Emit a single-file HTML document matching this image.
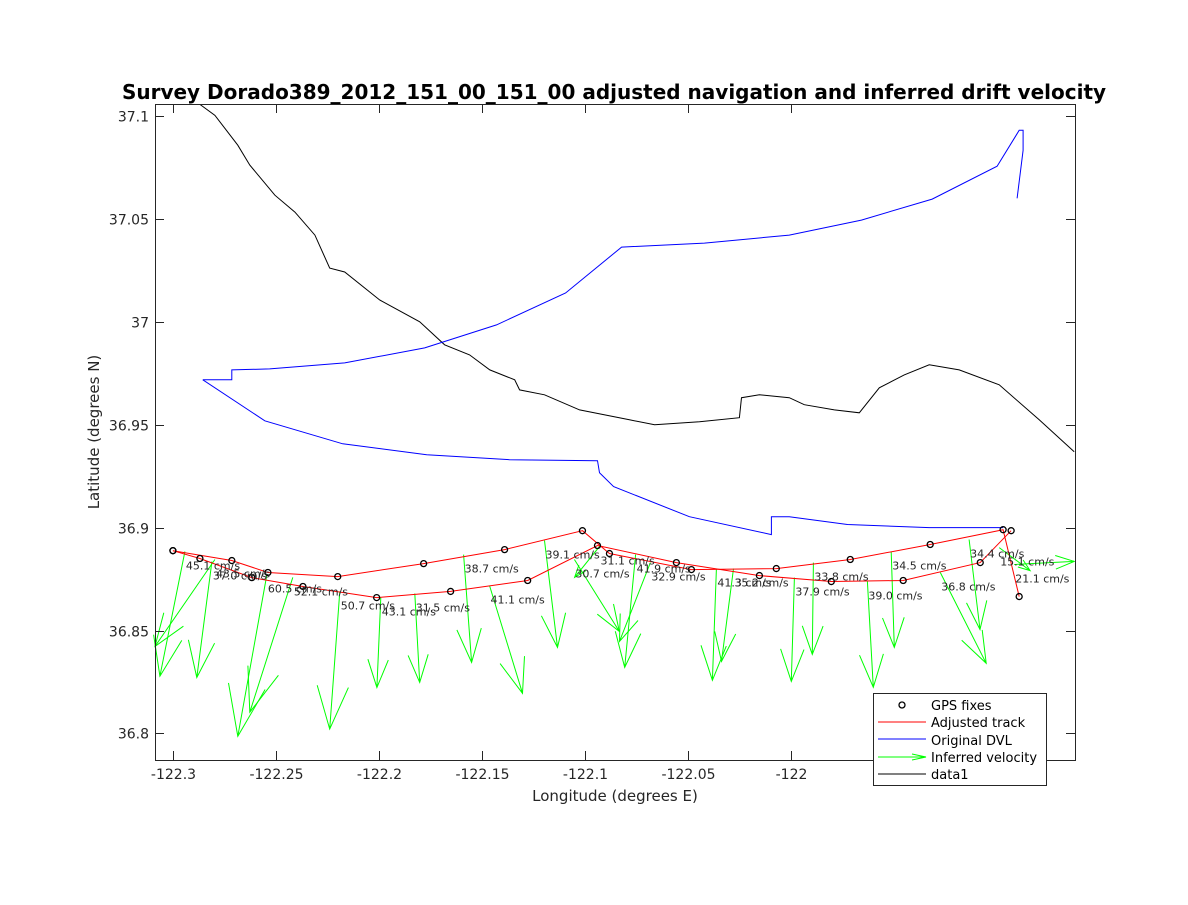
<!DOCTYPE html>
<html><head><meta charset="utf-8"><style>
body{margin:0;background:#fff;}
svg text{font-family:"DejaVu Sans","Liberation Sans",sans-serif;}
</style></head><body>
<svg id="chart" width="1188" height="900" viewBox="0 0 1188 900" xmlns="http://www.w3.org/2000/svg">
<rect width="1188" height="900" fill="#fff"/>
<text x="614" y="99" text-anchor="middle" font-size="20" font-weight="bold" fill="#000">Survey Dorado389_2012_151_00_151_00 adjusted navigation and inferred drift velocity</text>
<g id="plot"></g>
<text x="615" y="801" text-anchor="middle" font-size="15" fill="#262626">Longitude (degrees E)</text>
<text x="99" y="432" text-anchor="middle" font-size="15" fill="#262626" transform="rotate(-90 99 432)">Latitude (degrees N)</text>
<g>
<rect x="873.5" y="693.5" width="173" height="92" fill="#fff" stroke="#262626" stroke-width="1"/>
<circle cx="902" cy="705" r="3" fill="none" stroke="#000" stroke-width="1.3"/>
<text x="931" y="710" font-size="13" fill="#000">GPS fixes</text>
<line x1="878" y1="722" x2="926" y2="722" stroke="#f00"/>
<text x="931" y="727" font-size="13" fill="#000">Adjusted track</text>
<line x1="878" y1="739" x2="926" y2="739" stroke="#00f"/>
<text x="931" y="745" font-size="13" fill="#000">Original DVL</text>
<line x1="878" y1="757" x2="926" y2="757" stroke="#0f0"/>
<path d="M912 754 L926 757 L912 760" fill="none" stroke="#0f0"/>
<text x="931" y="762" font-size="13" fill="#000">Inferred velocity</text>
<line x1="878" y1="774" x2="926" y2="774" stroke="#000"/>
<text x="931" y="779" font-size="13" fill="#000">data1</text>
</g>
</svg>
<script>
const xTicks=[-122.3,-122.25,-122.2,-122.15,-122.1,-122.05,-122];
const xTickLabels=["-122.3","-122.25","-122.2","-122.15","-122.1","-122.05","-122"];
const yTicks=[36.8,36.85,36.9,36.95,37,37.05,37.1];
const yTickLabels=["36.8","36.85","36.9","36.95","37","37.05","37.1"];
const trackALon=[-122.3,-122.2714,-122.2539,-122.22,-122.1783,-122.139,-122.1012,-122.0881,-122.0483,-122.0071,-121.9712,-121.9324,-121.897,-121.8892];
const trackALat=[36.8888,36.884,36.8782,36.8762,36.8825,36.8893,36.8985,36.8874,36.8796,36.8801,36.8845,36.8918,36.899,36.8665];
const trackBLon=[-122.3,-122.2869,-122.2617,-122.2369,-122.2011,-122.1652,-122.1278,-122.0939,-122.0556,-122.0153,-121.9804,-121.9455,-121.9081,-121.8931];
const trackBLat=[36.8888,36.885,36.8757,36.8714,36.866,36.869,36.8743,36.8913,36.883,36.8767,36.8738,36.8743,36.883,36.8985];
const dvlALon=[-122.2855,-122.2714,-122.2714,-122.253,-122.2166,-122.1778,-122.1429,-122.1094,-122.0822,-122.042,-122.0008,-121.9658,-121.9314,-121.8999,-121.8892,-121.8873,-121.8873,-121.8902];
const dvlALat=[36.9718,36.9718,36.9766,36.9771,36.98,36.9873,36.9985,37.014,37.0363,37.0382,37.0421,37.0494,37.0596,37.0756,37.093,37.093,37.0833,37.06];
const dvlBLon=[-122.2855,-122.2554,-122.2176,-122.1768,-122.1366,-122.0939,-122.0929,-122.0861,-122.0493,-122.0095,-122.0095,-122.0008,-121.9726,-121.9329,-121.897];
const dvlBLat=[36.9718,36.9519,36.9407,36.9354,36.933,36.9325,36.9267,36.9199,36.9053,36.8966,36.9053,36.9053,36.9015,36.9,36.9];
const coastLon=[-122.2869,-122.2796,-122.2685,-122.2627,-122.2505,-122.2408,-122.2311,-122.2239,-122.2166,-122.1996,-122.1802,-122.1681,-122.156,-122.1462,-122.1341,-122.1317,-122.1196,-122.1026,-122.0784,-122.0662,-122.0444,-122.025,-122.024,-122.0153,-122.0008,-121.9935,-121.9789,-121.9668,-121.9571,-121.945,-121.9329,-121.9183,-121.8989,-121.8795,-121.8625];
const coastLat=[37.1056,37.1003,37.0858,37.0761,37.0615,37.0533,37.0421,37.0261,37.0242,37.0106,37.0,36.9888,36.9839,36.9766,36.9718,36.9669,36.9645,36.9572,36.9524,36.95,36.9514,36.9534,36.9631,36.9645,36.9631,36.9597,36.9572,36.9558,36.9679,36.9742,36.9791,36.9766,36.9694,36.9524,36.9369];
const arrowLon=[-122.2942,-122.2796,-122.2811,-122.2544,-122.2418,-122.219,-122.1991,-122.1826,-122.1589,-122.1463,-122.1196,-122.0929,-122.1051,-122.0754,-122.0682,-122.0362,-122.0279,-121.9983,-121.9891,-121.9629,-121.9513,-121.9275,-121.9135,-121.8989,-121.8916];
const arrowLat=[36.8884,36.8845,36.8835,36.8772,36.8758,36.869,36.866,36.868,36.8869,36.8719,36.8937,36.8908,36.8845,36.8869,36.883,36.8801,36.8801,36.8757,36.883,36.8738,36.8884,36.8782,36.8942,36.8903,36.8821];
const arrowDLon=[-0.0121,-0.0291,-0.0073,-0.0141,-0.0209,-0.0049,-0.0019,0.0024,0.0039,0.016,0.0063,-0.0121,0.0218,-0.0053,-0.015,-0.0019,-0.0058,-0.0015,-0.0005,0.0029,0.0015,0.0223,0.0053,0.015,0.0291];
const arrowDLat=[-0.0606,-0.0422,-0.0563,-0.0786,-0.0655,-0.0669,-0.0437,-0.0432,-0.0524,-0.0524,-0.0519,-0.015,-0.0349,-0.0548,-0.0383,-0.0543,-0.0451,-0.0504,-0.0446,-0.0514,-0.0466,-0.0441,-0.0437,-0.0112,0.0015];
const speedLabels=["45.1 cm/s","43.5 cm/s","37.0 cm/s","60.5 cm/s","52.1 cm/s","50.7 cm/s","43.1 cm/s","31.5 cm/s","38.7 cm/s","41.1 cm/s","39.1 cm/s","31.1 cm/s","30.7 cm/s","41.9 cm/s","32.9 cm/s","41.3 cm/s","35.2 cm/s","37.9 cm/s","33.8 cm/s","39.0 cm/s","34.5 cm/s","36.8 cm/s","34.4 cm/s","15.1 cm/s","21.1 cm/s"];

const X0=155,X1=1075,Y0=104,Y1=760;
const lonMin=-122.3087,lonMax=-121.8621,latMin=36.7871,latMax=37.1058;
function sx(v){return X0+(v-lonMin)/(lonMax-lonMin)*(X1-X0);}
function sy(v){return Y1-(v-latMin)/(latMax-latMin)*(Y1-Y0);}
const NS="http://www.w3.org/2000/svg";
const plot=document.getElementById('plot');
function mk(tag,attrs,parent){const e=document.createElementNS(NS,tag);for(const k in attrs)e.setAttribute(k,attrs[k]);(parent||plot).appendChild(e);return e;}
function poly(lons,lats,color,name){
  const pts=lons.map((v,i)=>sx(v).toFixed(1)+','+sy(lats[i]).toFixed(1)).join(' ');
  const el=mk('polyline',{points:pts,fill:'none',stroke:color,'stroke-width':1});
  
  
}
mk('rect',{x:X0+0.5,y:Y0+0.5,width:X1-X0,height:Y1-Y0,fill:'#fff',stroke:'none'});
poly(coastLon,coastLat,'#000','coastline-data1');
poly(dvlALon,dvlALat,'#00f','original-dvl-north');
poly(dvlBLon,dvlBLat,'#00f','original-dvl-south');
arrowLon.forEach((lon,i)=>{
  const x1=sx(lon),y1=sy(arrowLat[i]);
  const x2=sx(lon+arrowDLon[i]),y2=sy(arrowLat[i]+arrowDLat[i]);
  const dx=x2-x1,dy=y2-y1,len=Math.hypot(dx,dy),a=Math.atan2(dy,dx),h=len*0.33,t=0.35;
  const d=`M${x1.toFixed(1)},${y1.toFixed(1)}L${x2.toFixed(1)},${y2.toFixed(1)}M${(x2-h*Math.cos(a-t)).toFixed(1)},${(y2-h*Math.sin(a-t)).toFixed(1)}L${x2.toFixed(1)},${y2.toFixed(1)}L${(x2-h*Math.cos(a+t)).toFixed(1)},${(y2-h*Math.sin(a+t)).toFixed(1)}`;
  const p=mk('path',{d:d,fill:'none',stroke:'#0f0','stroke-width':1});
  
  
});
poly(trackALon,trackALat,'#f00','adjusted-track-a');
poly(trackBLon,trackBLat,'#f00','adjusted-track-b');
trackALon.concat(trackBLon).forEach((lon,i)=>{
  const lat=i<trackALon.length?trackALat[i]:trackBLat[i-trackALon.length];
  const c=mk('circle',{cx:sx(lon),cy:sy(lat),r:3,fill:'none',stroke:'#000','stroke-width':1.3});
  
  
});
speedLabels.forEach((s,i)=>{
  const t=mk('text',{x:sx(arrowLon[i])+1,y:sy(arrowLat[i])+18,'font-size':11,fill:'#262626'});
  t.textContent=s;
  
  
});
mk('rect',{x:X0+0.5,y:Y0+0.5,width:X1-X0,height:Y1-Y0,fill:'none',stroke:'#262626','stroke-width':1});
xTicks.forEach((v,i)=>{
  const x=Math.round(sx(v))+0.5;
  mk('line',{x1:x,y1:Y1,x2:x,y2:Y1-9,stroke:'#262626'});
  mk('line',{x1:x,y1:Y0,x2:x,y2:Y0+9,stroke:'#262626'});
  const t=mk('text',{x:x,y:Y1+19,'text-anchor':'middle','font-size':14,fill:'#262626'});
  t.textContent=xTickLabels[i];
  
  
});
yTicks.forEach((v,i)=>{
  const y=Math.round(sy(v))+0.5;
  mk('line',{x1:X0,y1:y,x2:X0+9,y2:y,stroke:'#262626'});
  mk('line',{x1:X1,y1:y,x2:X1-9,y2:y,stroke:'#262626'});
  const t=mk('text',{x:X0-6,y:y+5,'text-anchor':'end','font-size':14,fill:'#262626'});
  t.textContent=yTickLabels[i];
  
  
});
</script>
</body></html>
